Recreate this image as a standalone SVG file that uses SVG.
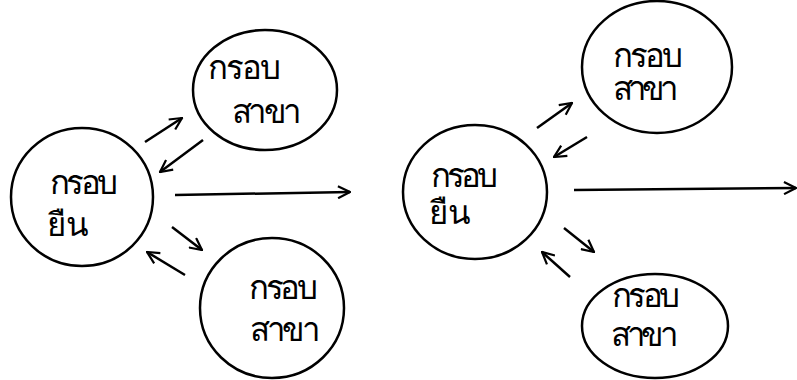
<svg xmlns="http://www.w3.org/2000/svg" width="797" height="380" viewBox="0 0 797 380">
<defs>
<marker id="ah" viewBox="0 0 14 14" refX="13" refY="7" markerWidth="14" markerHeight="14" markerUnits="userSpaceOnUse" orient="auto">
<path d="M1,1 L13,7 L1,13" fill="none" stroke="#000" stroke-width="2.2"/>
</marker>
</defs>
<style>
.c{fill:none;stroke:#000;stroke-width:2.5}
.t{font-family:"DejaVu Sans","Noto Sans",sans-serif;font-size:33px;fill:#000}
.a{fill:none;stroke:#000;stroke-width:2.5;marker-end:url(#ah)}
</style>
<rect width="797" height="380" fill="#fff"/>
<g id="main-left">
<ellipse class="c" cx="82" cy="197" rx="71" ry="69"/>
<text class="t" x="50" y="194" textLength="68">กรอบ</text>
<text class="t" x="47" y="236">ยืน</text>
</g>
<g id="branch-left-top">
<ellipse class="c" cx="265" cy="90" rx="72" ry="60"/>
<text class="t" x="208" y="79" textLength="73">กรอบ</text>
<text class="t" x="232" y="123" textLength="70">สาขา</text>
</g>
<g id="branch-left-bottom">
<ellipse class="c" cx="272" cy="308" rx="72" ry="70"/>
<text class="t" x="249" y="299" textLength="69">กรอบ</text>
<text class="t" x="250" y="341" textLength="71">สาขา</text>
</g>
<g id="main-right">
<ellipse class="c" cx="475" cy="192" rx="72" ry="67"/>
<text class="t" x="431" y="187" textLength="67">กรอบ</text>
<text class="t" x="429" y="224">ยืน</text>
</g>
<g id="branch-right-top">
<ellipse class="c" cx="657" cy="67" rx="75" ry="66"/>
<text class="t" x="613" y="67" textLength="70">กรอบ</text>
<text class="t" x="613" y="100" textLength="66">สาขา</text>
</g>
<g id="branch-right-bottom">
<ellipse class="c" cx="655" cy="326" rx="73" ry="52"/>
<text class="t" x="612" y="307" textLength="68">กรอบ</text>
<text class="t" x="611" y="346" textLength="68">สาขา</text>
</g>
<g id="connectors">
<line class="a" x1="145" y1="142" x2="182" y2="118"/>
<line class="a" x1="203" y1="140" x2="160" y2="172"/>
<line class="a" x1="175" y1="195" x2="350" y2="192"/>
<line class="a" x1="172" y1="227" x2="202" y2="250"/>
<line class="a" x1="185" y1="275" x2="147" y2="252"/>
<line class="a" x1="537" y1="128" x2="572" y2="103"/>
<line class="a" x1="587" y1="137" x2="554" y2="157"/>
<line class="a" x1="574" y1="190" x2="796" y2="188"/>
<line class="a" x1="564" y1="228" x2="594" y2="252"/>
<line class="a" x1="570" y1="277" x2="542" y2="252"/>
</g>
</svg>
